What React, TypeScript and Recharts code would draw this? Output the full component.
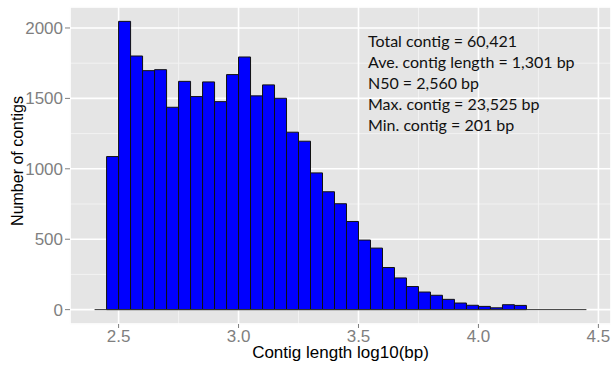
import React from 'react';
import {
  BarChart,
  Bar,
  XAxis,
  YAxis,
  CartesianGrid,
  ReferenceLine,
} from 'recharts';

// histogram bins (log10 length), 0.05 wide
const binStarts = [
  2.40, 2.45, 2.50, 2.55, 2.60, 2.65, 2.70, 2.75, 2.80, 2.85, 2.90, 2.95, 3.00, 3.05,
  3.10, 3.15, 3.20, 3.25, 3.30, 3.35, 3.40, 3.45, 3.50, 3.55, 3.60, 3.65, 3.70, 3.75,
  3.80, 3.85, 3.90, 3.95, 4.00, 4.05, 4.10, 4.15, 4.20, 4.25, 4.30, 4.35, 4.40,
];
const counts = [
  0, 1087, 2047, 1801, 1697, 1704, 1437, 1621, 1513, 1617, 1477, 1669, 1794, 1518,
  1596, 1501, 1260, 1196, 971, 837, 752, 626, 494, 437, 299, 225, 164, 125,
  102, 73, 47, 31, 23, 13, 35, 30, 0, 0, 0, 0, 0,
];
const binWidth = 0.05;

const xTicks = [2.5, 3.0, 3.5, 4.0, 4.5];
const yTicks = [0, 500, 1000, 1500, 2000];
const xMinor = [2.75, 3.25, 3.75, 4.25];
const yMinor = [250, 750, 1250, 1750];

const stats = [
  'Total contig = 60,421',
  'Ave. contig length = 1,301 bp',
  'N50 = 2,560 bp',
  'Max. contig = 23,525 bp',
  'Min. contig = 201 bp',
];

const data = binStarts.map((s, i) => ({ mid: s + binWidth / 2, count: counts[i] }));
const xStart = binStarts[0];
const xEnd = binStarts[binStarts.length - 1] + binWidth;

const xDomain = [2.2975, 4.5525];
const yDomain = [-102, 2149];

const font = 'Liberation Sans, Arial, sans-serif';
const tickStyle = { fill: '#7f7f7f', fontSize: 17, fontFamily: font };

export default function App() {
  return (
    <div style={{ position: 'absolute', left: 0, top: 0, width: 611, height: 367, background: '#fff' }}>
      <BarChart
        width={611}
        height={367}
        data={data}
        margin={{ top: 7, right: 0, left: 0, bottom: 0 }}
        barCategoryGap={0}
        barGap={0}
      >
        {/* minor grid from hidden axes, major grid on top */}
        <CartesianGrid
          xAxisId="minor"
          yAxisId="minor"
          fill="#e5e5e5"
          fillOpacity={1}
          stroke="#f2f2f2"
          strokeWidth={1}
        />
        <CartesianGrid stroke="#ffffff" strokeWidth={1.6} />
        <XAxis
          dataKey="mid"
          type="number"
          domain={xDomain}
          allowDataOverflow
          ticks={xTicks}
          tickFormatter={(v: number) => v.toFixed(1)}
          tick={tickStyle}
          tickSize={4}
          tickMargin={2}
          tickLine={{ stroke: '#7f7f7f' }}
          axisLine={false}
          height={43}
          label={{
            value: 'Contig length log10(bp)',
            position: 'insideBottom',
            offset: 9,
            style: { fill: '#000', fontSize: 17, fontFamily: font },
          }}
        />
        <XAxis xAxisId="minor" dataKey="mid" type="number" domain={xDomain} allowDataOverflow ticks={xMinor} hide />
        <YAxis
          type="number"
          domain={yDomain}
          allowDataOverflow
          ticks={yTicks}
          tick={tickStyle}
          tickSize={5}
          tickMargin={2}
          tickLine={{ stroke: '#7f7f7f' }}
          axisLine={false}
          width={70}
        />
        <YAxis yAxisId="minor" type="number" domain={yDomain} allowDataOverflow ticks={yMinor} hide />
        <ReferenceLine
          segment={[{ x: xStart, y: 0 }, { x: xEnd, y: 0 }]}
          stroke="#333333"
          strokeWidth={1}
        />
        <Bar dataKey="count" fill="#0000ff" stroke="#111111" strokeWidth={1} isAnimationActive={false} />
      </BarChart>
      <div
        style={{
          position: 'absolute',
          left: 18,
          top: 161,
          transform: 'translate(-50%, -50%) rotate(-90deg)',
          whiteSpace: 'nowrap',
          fontFamily: font,
          fontSize: 16,
          color: '#000',
        }}
      >
        Number of contigs
      </div>
      <div
        style={{
          position: 'absolute',
          left: 368,
          top: 30,
          lineHeight: '21px',
          fontFamily: 'Lato, sans-serif',
          fontSize: 16,
          color: '#111',
          whiteSpace: 'nowrap',
        }}
      >
        {stats.map(s => (
          <div key={s}>{s}</div>
        ))}
      </div>
    </div>
  );
}
